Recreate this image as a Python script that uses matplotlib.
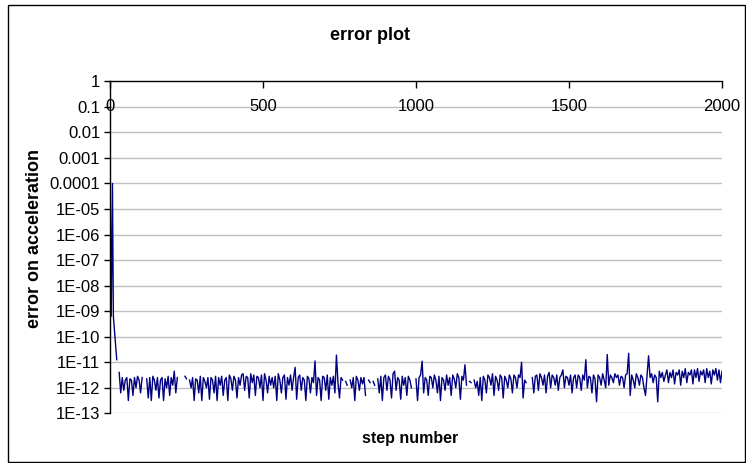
import numpy as np
import matplotlib
matplotlib.use('Agg')
import matplotlib.pyplot as plt
from matplotlib.patches import Rectangle

plt.rcParams['font.family'] = ['Liberation Sans', 'DejaVu Sans']

nan = np.nan

# start of the run: error drops fast
start_steps = [1, 4, 8, 11, 22, 25]
start_log_err = [-4.78, -9.2, -4.0, -9.2, -10.9, nan]

# then one sample every 5 steps from step 30 (log10 of the error, nan = zero error)
noise_log_err = [
    -11.4, -12.2, -11.6, -12.1, -11.7, -11.6, -12.5, -11.65, -11.7, -12.3,
    -11.6, -12.0, -11.55, -11.7, -12.2, -11.6, nan, nan, -11.65, -12.4,
    -11.6, -12.5, -11.55, -11.7, -12.1, -11.6, -12.4, -11.7, -11.6, -12.5,
    -11.65, -12.0, -11.55, -12.3, -11.6, -11.9, -11.35, -12.2, -11.6, nan,
    nan, nan, nan, -11.55, -11.65, nan, -11.7, -12.0, -11.6, -12.5,
    -11.65, -11.7, -12.2, -11.55, -12.5, -11.6, -11.75, -12.0, -11.6, -12.45,
    -11.6, -11.7, -12.2, -11.55, -12.5, -11.6, -11.9, -11.55, -12.3, -11.7,
    -11.6, -12.5, -11.5, -11.65, -12.1, -11.55, -11.7, -12.4, -11.6, -11.9,
    -11.5, -11.45, -12.1, -11.55, -11.6, -12.4, -11.45, -11.8, -11.5, -12.3,
    -11.55, -11.6, -12.0, -11.5, -12.5, -11.45, -11.7, -12.2, -11.55, -11.9,
    -11.6, -12.0, -11.55, -12.5, -11.45, -11.7, -12.2, -11.6, -11.5, -12.45,
    -11.6, -11.9, -11.5, -12.1, -11.6, -11.2, -12.45, -11.6, -11.5, -12.1,
    -11.6, -11.7, -12.5, -11.55, -11.65, -12.2, -11.6, -11.8, -10.95, -12.3,
    -11.6, -11.7, -12.5, -11.55, -11.6, -12.1, -11.5, -12.45, -11.6, -11.9,
    -11.55, -12.2, -10.72, -11.8, -12.4, -11.6, -11.7, nan, -11.75, -11.9,
    nan, -11.7, -12.0, -11.6, -12.5, -11.55, -11.7, -12.1, -11.6, -11.85,
    -11.6, -12.3, nan, -11.7, -11.8, nan, -11.75, -11.9, nan, -11.65,
    -12.2, -11.55, -12.5, -11.6, -11.5, -12.1, -11.55, -11.7, -12.4, -11.45,
    -11.35, -12.1, -11.6, -11.7, -12.45, -11.55, -11.9, -11.6, -12.3, -11.55,
    -11.7, -12.0, nan, nan, -11.65, -12.5, -11.6, -11.5, -10.96, -12.2,
    -11.6, -11.7, -12.3, -11.55, -11.6, -12.0, -11.5, -11.7, -12.2, -11.55,
    -12.5, -11.6, -11.7, -12.1, -11.5, -11.9, -11.6, -12.3, -11.5, -11.65,
    -12.0, -11.45, -11.6, -12.45, -11.55, -11.7, -11.1, -11.9, nan, -11.75,
    -11.8, nan, -11.7, -12.0, -11.75, -12.3, -11.6, -12.5, -11.55, -11.7,
    -12.2, -11.5, -11.6, -11.9, -11.45, -12.3, -11.55, -11.7, -12.1, -11.5,
    -11.6, -12.4, -11.55, -11.7, -12.0, -11.5, -11.65, -12.2, -11.5, -11.6,
    -12.0, -11.5, -11.6, -11.0, -12.4, -11.7, -11.8, nan, -11.7, nan,
    -11.6, -12.2, -11.55, -11.5, -12.1, -11.45, -11.6, -11.9, -11.5, -12.2,
    -11.55, -11.4, -12.0, -11.5, -11.6, -11.9, -11.5, -12.1, -11.6, -11.5,
    -11.3, -12.0, -11.55, -11.6, -11.9, -11.5, -12.2, -11.6, -11.5, -12.0,
    -11.5, -11.6, -12.1, -11.5, -11.7, -10.9, -12.0, -11.55, -11.6, -12.2,
    -11.5, -11.65, -12.55, -11.5, -11.6, -11.9, -11.45, -11.7, -12.0, -10.7,
    -11.9, -11.5, -11.6, -11.8, -11.45, -11.6, -11.5, -11.9, -11.55, -11.6,
    -12.0, -11.5, -11.45, -10.65, -12.3, -11.5, -11.7, -12.0, -11.45, -11.6,
    -11.9, -11.5, -11.6, -12.0, -12.3, -11.5, -10.75, -11.6, -11.45, -11.8,
    -11.5, -11.6, -12.55, -11.35, -11.6, -11.4, -11.75, -11.5, -11.3, -11.8,
    -11.4, -11.6, -11.3, -11.85, -11.4, -11.5, -11.3, -11.9, -11.35, -11.6,
    -11.25, -11.8, -11.4, -11.5, -11.3, -11.85, -11.3, -11.6, -11.25, -11.75,
    -11.35, -11.5, -11.3, -11.8, -11.25, -11.6, -11.35, -11.85, -11.3, -11.5,
    -11.25, -11.7, -11.3, -11.8, -11.35,
]
noise_steps = list(range(30, 30 + 5 * len(noise_log_err), 5))

y_ticks = [1, 0.1, 0.01, 0.001, 0.0001, 1e-5, 1e-6, 1e-7, 1e-8, 1e-9,
           1e-10, 1e-11, 1e-12, 1e-13]
y_labels = ['1', '0.1', '0.01', '0.001', '0.0001', '1E-05', '1E-06', '1E-07',
            '1E-08', '1E-09', '1E-10', '1E-11', '1E-12', '1E-13']
x_ticks = [0, 500, 1000, 1500, 2000]

steps = np.array(start_steps + noise_steps)
err = 10.0 ** np.array(start_log_err + noise_log_err)

W, H = 746, 463
fig = plt.figure(figsize=(W / 100, H / 100), dpi=100)
fig.patch.set_facecolor('white')
fig.patches.append(Rectangle((8 / W, 1 / H), 737 / W, 457 / H, transform=fig.transFigure,
                             fill=False, edgecolor='black', linewidth=1.0))

ax = fig.add_axes([110 / W, 1 - 413.3 / H, 612 / W, 332 / H])
ax.set_yscale('log')
ax.set_ylim(1e-13, 1)
ax.set_xlim(0, 2000)

# horizontal gridlines at every decade
for v in y_ticks[1:]:
    ax.axhline(v, color='#c0c0c0', linewidth=1.0, zorder=0)

ax.plot(steps, err, color='#000080', linewidth=1.0)

ax.spines['right'].set_visible(False)
ax.spines['bottom'].set_visible(False)
ax.spines['left'].set_linewidth(1.0)
ax.spines['top'].set_linewidth(1.0)

ax.set_yticks(y_ticks)
ax.set_yticklabels(y_labels, fontsize=12)
ax.yaxis.set_minor_locator(matplotlib.ticker.NullLocator())
ax.tick_params(axis='y', direction='out', length=4, width=1, pad=3)

ax.xaxis.set_ticks_position('top')
ax.set_xticks(x_ticks)
ax.tick_params(axis='x', direction='in', length=5, width=1, labeltop=False, labelbottom=False)
for xv in x_ticks:
    ax.text(xv, 0.1, str(xv), ha='center', va='center', fontsize=12)

fig.text(35 / W, 1 - 238 / H, 'error on acceleration', ha='center', va='center',
         rotation=90, fontsize=13, fontweight='bold')
fig.text(370 / W, 1 - 35 / H, 'error plot', ha='center', va='center',
         fontsize=13, fontweight='bold')
fig.text(410 / W, 1 - 438 / H, 'step number', ha='center', va='center',
         fontsize=11.5, fontweight='bold')

fig.savefig('out.png', dpi=100)
